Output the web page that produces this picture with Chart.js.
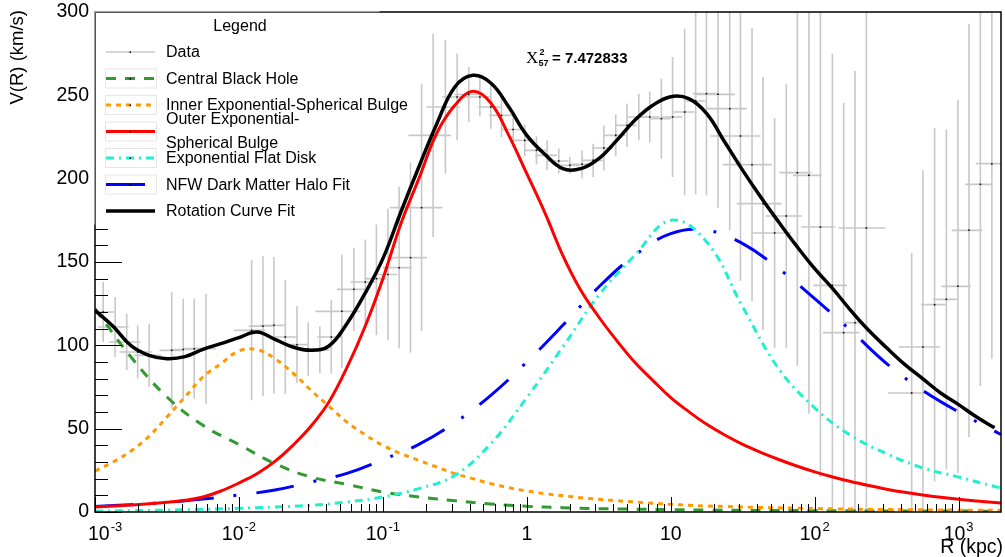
<!DOCTYPE html>
<html>
<head>
<meta charset="utf-8">
<script src="https://cdn.jsdelivr.net/npm/chart.js@4.4.1/dist/chart.umd.min.js"></script>
<style>
  html, body { margin: 0; padding: 0; background: #ffffff; }
</style>
</head>
<body>
<canvas id="curvaRotacao" width="1005" height="557"></canvas>
<script>
// Raios de amostragem das curvas (kpc) - passo de 1/8 de década
const raioFino = [0.001, 0.001334, 0.001778, 0.002371, 0.003162, 0.004217, 0.005623, 0.007499,
  0.01, 0.01334, 0.01778, 0.02371, 0.03162, 0.04217, 0.05623, 0.07499,
  0.1, 0.1334, 0.1778, 0.2371, 0.3162, 0.4217, 0.5623, 0.7499,
  1, 1.334, 1.778, 2.371, 3.162, 4.217, 5.623, 7.499,
  10, 13.34, 17.78, 23.71, 31.62, 42.17, 56.23, 74.99,
  100, 133.4, 177.8, 237.1, 316.2, 421.7, 562.3, 749.9,
  1000, 1334, 1778, 1970];

// Raios de amostragem (kpc) - passo de 1/4 de década
const raioGrosso = [0.001, 0.001778, 0.003162, 0.005623, 0.01, 0.01778, 0.03162, 0.05623,
  0.1, 0.1778, 0.3162, 0.5623, 1, 1.778, 3.162, 5.623, 10, 17.78, 31.62, 56.23,
  100, 177.8, 316.2, 562.3, 1000, 1778, 1970];

// Curvas (km/s)
const vRotacao = [121, 111.4, 99.8, 94, 92, 93.2, 97.6, 101, 104.6, 108, 103.6, 99, 97, 99.6, 113, 131,
  152, 180, 207, 233, 255, 262, 257.4, 243, 226, 214.6, 206, 206, 212, 223, 235, 244,
  249.2, 248, 239, 222, 205, 189, 174, 159.5, 146, 134, 121, 109, 98.5, 88.6, 80, 71.4,
  64.4, 57, 50.5, null];

const vBojoExterno = [3, 3.6, 4.2, 5, 5.8, 7, 9, 12.6, 17.4, 23, 30.4, 40, 51.4, 66, 86.6, 111,
  140, 173, 200, 227.4, 244, 252.4, 245.4, 226, 203, 179.6, 154, 133, 117, 102.8, 89.8, 79,
  68.6, 60.2, 52.6, 46.2, 40.6, 35.8, 31.5, 27.6, 24.1, 21, 18.3, 15.9, 13.7, 11.8, 10.2, 8.8,
  7.6, 6.6, 5.7, 5.4];

const vBojoInterno = [24.6, 30, 36.6, 45.4, 57, 69, 81, 89, 96.6, 97.4, 92, 83.4, 73, 63.5, 54, 46.5,
  40, 35, 31, 27, 23, 20, 17, 14.6, 12.6, 11, 9.8, 8.6, 7.6, 6.8, 6, 5.2,
  4.6, 4, 3.6, 3.3, 3, 2.7, 2.5, 2.3, 2.1, 1.9, 1.8, 1.6, 1.5, 1.4, 1.3, 1.2,
  1.1, 1.05, 1, 1];

const vBuracoNegro = [122, 93, 69, 52, 40.5, 29, 21, 16.6, 12, 9, 6.8, 4.8, 3.4, 2.6, 2, 1.7,
  1.4, 1.2, 1.0, 0.9, 0.8, 0.7, 0.65, 0.6, 0.55, 0.5, 0.5];

const vDisco = [0.5, 0.8, 1.1, 1.6, 2.2, 3, 4, 6, 9, 14, 22, 41, 68.6, 99, 130, 154,
  175, 162, 123, 86, 62.5, 46, 35, 26.5, 21, 15.3, 14.5];

const vHaloNFW = [3.3, 4.4, 5.8, 7.8, 10.2, 13.2, 18, 23.2, 31.4, 40.6, 53.6, 70, 90, 112, 135, 154,
  167, 169, 161, 146, 128, 109, 89, 73, 60, 48.5, 46.5];

// Pontos medidos (R em kpc, V em km/s) e seus erros
const dadosR = [0.00114, 0.00138, 0.00166, 0.00198, 0.00238, 0.00341, 0.0041, 0.00489, 0.0059,
  0.01225, 0.01468, 0.0175, 0.021, 0.0253, 0.0303, 0.0365, 0.0438, 0.0519, 0.0629, 0.0755,
  0.0902, 0.1084, 0.1297, 0.1556, 0.1857, 0.2234, 0.272, 0.328, 0.395, 0.472, 0.562, 0.667,
  0.804, 0.968, 1.167, 1.383, 1.667, 1.99, 2.42, 2.89, 3.43, 4.15, 4.97, 6.0, 7.15, 8.61,
  10.3, 12.5, 14.9, 17.7, 21.3, 25.7, 30.5, 36.7, 43.8, 52.7, 63.5, 75.8, 91.2, 109.6,
  132.7, 158.9, 190.5, 228.6, 472, 565, 681, 822, 989, 1180, 1416, 1702];
const dadosV = [120, 111, 102, 96, 94, 97, 97.5, 98, 98,
  109, 111.5, 112, 105, 100.4, 97.8, 97.3, 105, 120.4, 133.6, 138,
  140, 142.5, 146.6, 152.6, 182.6, 226, 243, 249, 250.5, 249, 243, 238,
  229.5, 223, 217, 214, 210.6, 208, 208.6, 211, 218.4, 226, 232, 237, 237, 236,
  237, 240, 246.6, 251, 250.6, 242, 225.6, 208.4, 185, 167.4, 177.6, 203.6, 202, 171,
  136, 107.6, 113.6, 170.4, 71.4, 99, 124.4, 127.6, 135.4, 169, 196.6, 209];
const dadosErroV = [18, 18, 17, 16, 19, 35, 30.5, 30, 33,
  42, 42, 41, 34, 23, 16, 14, 22, 34, 25, 25.5,
  34, 39.5, 48.5, 57, 74, 61, 40, 26, 16.5, 11.5, 13, 13,
  10.5, 9.5, 8.5, 9, 7.5, 5, 8.5, 10, 13.5, 12.5, 13, 14, 15.5, 24,
  36, 50, 56, 61, 68, 73, 87, 82, 76, 69, 79, 116, 143, 150,
  139, 138, 151, 170, 84, 106, 106, 102, 112, 124, 121, 117];
const dadosErroR = [0.00021, 0.00033, 0.00041, 0.0005, 0.0005, 0.0006, 0.0007, 0.0008, 0.001,
  0.003, 0.003, 0.0035, 0.0048, 0.005, 0.005, 0.006, 0.0088, 0.018, 0.015, 0.016,
  0.015, 0.017, 0.03, 0.047, 0.074, 0.073, 0.071, 0.07, 0.08, 0.09, 0.1, 0.12,
  0.14, 0.17, 0.2, 0.24, 0.28, 0.33, 0.4, 0.48, 0.57, 0.7, 0.83, 1.0, 1.2, 1.4,
  1.7, 2.1, 2.5, 3.5, 6.6, 8, 11.6, 13.7, 15, 16, 18, 19, 20.5, 29,
  35, 45, 30, 82, 149, 180, 132, 160, 228, 285, 306, 387];

// Rótulos do eixo x (base e expoente)
const ticksX = [0.001, 0.01, 0.1, 1, 10, 100, 1000];
const ticksXBase = ['10', '10', '10', '1', '10', '10', '10'];
const ticksXExpoente = ['-3', '-2', '-1', '', '', '2', '3'];

const FONTE = '"Liberation Sans", Arial, sans-serif';

// Itens da legenda (desenhada à mão, no estilo do ROOT)
const itensLegenda = [
  { texto: ['Data'], cor: '#c8c8c8', largura: 1.6, dash: [], y: 52, caixa: false },
  { texto: ['Central Black Hole'], cor: '#339933', largura: 3, dash: [10, 9], y: 78.5, caixa: true },
  { texto: ['Inner Exponential-Spherical Bulge'], cor: '#ff9900', largura: 3, dash: [5, 5], y: 105, caixa: true },
  { texto: ['Outer Exponential-', 'Spherical Bulge'], cor: '#ff0000', largura: 3, dash: [], y: 131.5, caixa: true, yTexto: [119, 143] },
  { texto: ['Exponential Flat Disk'], cor: '#20f0d0', largura: 3, dash: [8, 5, 2, 5], y: 158, caixa: true },
  { texto: ['NFW Dark Matter Halo Fit'], cor: '#0000ff', largura: 3, dash: [], y: 184.5, caixa: true, fim: 145 },
  { texto: ['Rotation Curve Fit'], cor: '#000000', largura: 3.5, dash: [], y: 211, caixa: false }
];

function pontos(raios, valores) {
  return raios.map((r, i) => ({ x: r, y: valores[i] }));
}

// Barras de erro dos dados, desenhadas antes das curvas
const barrasErro = {
  id: 'barrasErro',
  beforeDatasetsDraw(chart) {
    const { ctx, chartArea } = chart;
    const sx = chart.scales.x;
    const sy = chart.scales.y;
    ctx.save();
    ctx.beginPath();
    ctx.rect(chartArea.left, chartArea.top, chartArea.right - chartArea.left, chartArea.bottom - chartArea.top);
    ctx.clip();
    ctx.strokeStyle = '#c8c8c8';
    ctx.lineWidth = 1.6;
    for (let i = 0; i < dadosR.length; i++) {
      const px = sx.getPixelForValue(dadosR[i]);
      const py = sy.getPixelForValue(dadosV[i]);
      const xa = sx.getPixelForValue(dadosR[i] - dadosErroR[i]);
      const xb = sx.getPixelForValue(dadosR[i] + dadosErroR[i]);
      const ya = sy.getPixelForValue(dadosV[i] - dadosErroV[i]);
      const yb = sy.getPixelForValue(dadosV[i] + dadosErroV[i]);
      ctx.beginPath();
      ctx.moveTo(px, ya);
      ctx.lineTo(px, yb);
      ctx.moveTo(xa, py);
      ctx.lineTo(xb, py);
      ctx.stroke();
    }
    ctx.restore();
  }
};

// Moldura, marcas dos eixos, legenda e textos
const moldura = {
  id: 'moldura',
  afterDatasetsDraw(chart) {
    const { ctx, chartArea } = chart;
    const sx = chart.scales.x;
    const sy = chart.scales.y;
    const esq = chartArea.left, dir = chartArea.right, topo = chartArea.top, base = chartArea.bottom;

    ctx.save();
    ctx.strokeStyle = '#000';
    ctx.lineWidth = 1;
    ctx.beginPath();
    // marcas do eixo x (log)
    for (let d = -3; d <= 3; d++) {
      for (let m = 1; m <= 9; m++) {
        const v = m * Math.pow(10, d);
        if (v > sx.max) break;
        const px = Math.round(sx.getPixelForValue(v)) + 0.5;
        const tam = m === 1 ? 15 : 8;
        ctx.moveTo(px, base);
        ctx.lineTo(px, base - tam);
      }
    }
    // marcas do eixo y
    for (let v = 0; v <= 300; v += 10) {
      const py = Math.round(sy.getPixelForValue(v)) + 0.5;
      const tam = v % 50 === 0 ? 27 : 13;
      ctx.moveTo(esq, py);
      ctx.lineTo(esq + tam, py);
    }
    ctx.stroke();

    ctx.lineWidth = 1.5;
    ctx.strokeRect(esq, topo, dir - esq, base - topo);

    desenharLegenda(ctx, esq, topo);
    desenharTextos(ctx, chart);
    ctx.restore();
  }
};

function desenharLegenda(ctx, esq, topo) {
  const x1 = 380, y1 = 225;
  ctx.fillStyle = '#ffffff';
  ctx.fillRect(esq - 0.5, topo - 0.5, x1 - esq, y1 - topo);
  ctx.strokeStyle = '#555';
  ctx.lineWidth = 1;
  ctx.beginPath();
  ctx.moveTo(esq + 0.5, y1);
  ctx.lineTo(esq + 0.5, topo + 0.5);
  ctx.lineTo(x1, topo + 0.5);
  ctx.stroke();

  ctx.fillStyle = '#000';
  ctx.font = '16px ' + FONTE;
  ctx.textAlign = 'center';
  ctx.textBaseline = 'middle';
  ctx.fillText('Legend', 240, 27);

  ctx.textAlign = 'left';
  itensLegenda.forEach(item => {
    if (item.caixa) {
      ctx.strokeStyle = '#e6e6e6';
      ctx.lineWidth = 1;
      ctx.setLineDash([]);
      ctx.strokeRect(105.5, item.y - 9.5, 51, 19);
    }
    ctx.strokeStyle = item.cor;
    ctx.lineWidth = item.largura;
    ctx.setLineDash(item.dash);
    ctx.beginPath();
    ctx.moveTo(106, item.y);
    ctx.lineTo(item.fim || 155, item.y);
    ctx.stroke();
    ctx.setLineDash([]);
    ctx.fillStyle = '#000';
    ctx.fillRect(129.5, item.y - 0.5, 1.5, 1.5);
    ctx.font = '16px ' + FONTE;
    const ys = item.yTexto || [item.y];
    item.texto.forEach((t, k) => ctx.fillText(t, 166, ys[k] + 1));
  });
}

function desenharTextos(ctx, chart) {
  const sx = chart.scales.x;
  ctx.fillStyle = '#000';
  ctx.textBaseline = 'alphabetic';

  // rótulos do eixo x com expoente
  ticksX.forEach((v, i) => {
    const px = sx.getPixelForValue(v);
    ctx.font = '19.5px ' + FONTE;
    const lb = ctx.measureText(ticksXBase[i]).width;
    ctx.font = '13px ' + FONTE;
    const le = ticksXExpoente[i] ? ctx.measureText(ticksXExpoente[i]).width + 1 : 0;
    let x0 = px - (lb + le) / 2;
    if (x0 < 88) x0 = 88;
    ctx.textAlign = 'left';
    ctx.font = '19.5px ' + FONTE;
    ctx.fillText(ticksXBase[i], x0, 540);
    if (le) {
      ctx.font = '13px ' + FONTE;
      ctx.fillText(ticksXExpoente[i], x0 + lb + 1, 531);
    }
  });

  // títulos dos eixos
  ctx.font = '19.5px ' + FONTE;
  ctx.textAlign = 'right';
  ctx.fillText('R (kpc)', 1003, 553);

  ctx.save();
  ctx.translate(18, 10);
  ctx.rotate(-Math.PI / 2);
  ctx.textAlign = 'right';
  ctx.textBaseline = 'middle';
  ctx.font = '18.5px ' + FONTE;
  ctx.fillText('V(R) (km/s)', 0, 0);
  ctx.restore();

  // qui-quadrado do ajuste
  ctx.textAlign = 'left';
  ctx.font = '17px "Liberation Serif", serif';
  ctx.fillText('X', 526, 63);
  ctx.font = 'bold 9px ' + FONTE;
  ctx.fillText('2', 539.5, 55);
  ctx.fillText('57', 538.5, 66);
  ctx.font = 'bold 15px ' + FONTE;
  ctx.fillText('= 7.472833', 552, 63);
}

function montarGrafico() {
  const ctx = document.getElementById('curvaRotacao').getContext('2d');

  const config = {
    type: 'scatter',
    data: {
      datasets: [
        {
          label: 'Data',
          data: pontos(dadosR, dadosV),
          pointStyle: 'rect',
          pointRadius: 1.1,
          backgroundColor: '#000',
          borderWidth: 0,
          showLine: false
        },
        {
          label: 'Rotation Curve Fit',
          data: pontos(raioFino, vRotacao),
          showLine: true, pointRadius: 0, tension: 0.4,
          borderColor: '#000000', borderWidth: 3.5
        },
        {
          label: 'Outer Exponential-Spherical Bulge',
          data: pontos(raioFino, vBojoExterno),
          showLine: true, pointRadius: 0, tension: 0.4,
          borderColor: '#ff0000', borderWidth: 3
        },
        {
          label: 'Exponential Flat Disk',
          data: pontos(raioGrosso, vDisco),
          showLine: true, pointRadius: 0, tension: 0.4,
          borderColor: '#20f0d0', borderWidth: 3, borderDash: [8, 5, 2, 5]
        },
        {
          label: 'NFW Dark Matter Halo Fit',
          data: pontos(raioGrosso, vHaloNFW),
          showLine: true, pointRadius: 0, tension: 0.4,
          borderColor: '#0000ff', borderWidth: 3, borderDash: [38, 20, 3, 20]
        },
        {
          label: 'Inner Exponential-Spherical Bulge',
          data: pontos(raioFino, vBojoInterno),
          showLine: true, pointRadius: 0, tension: 0.4,
          borderColor: '#ff9900', borderWidth: 3, borderDash: [5, 5]
        },
        {
          label: 'Central Black Hole',
          data: pontos(raioGrosso, vBuracoNegro),
          showLine: true, pointRadius: 0, tension: 0.4,
          borderColor: '#339933', borderWidth: 3, borderDash: [10, 9]
        }
      ]
    },
    options: {
      responsive: false,
      animation: false,
      layout: { padding: { top: 12, right: 3, left: 0, bottom: 0 } },
      scales: {
        x: {
          type: 'logarithmic',
          min: 0.001,
          max: 1970,
          ticks: { display: false },
          grid: { display: false, drawTicks: false },
          border: { display: false },
          afterFit: scale => { scale.height = 45; scale.paddingLeft = 0; scale.paddingRight = 0; }
        },
        y: {
          type: 'linear',
          min: 0,
          max: 300,
          ticks: { stepSize: 50, color: '#000', padding: 6, font: { size: 19.5, family: FONTE } },
          grid: { display: false, drawTicks: false },
          border: { display: false },
          afterFit: scale => { scale.width = 95; scale.paddingTop = 0; scale.paddingBottom = 0; }
        }
      },
      plugins: {
        legend: { display: false },
        tooltip: { enabled: false }
      }
    },
    plugins: [barrasErro, moldura]
  };

  new Chart(ctx, config);
}

montarGrafico();
</script>
</body>
</html>
